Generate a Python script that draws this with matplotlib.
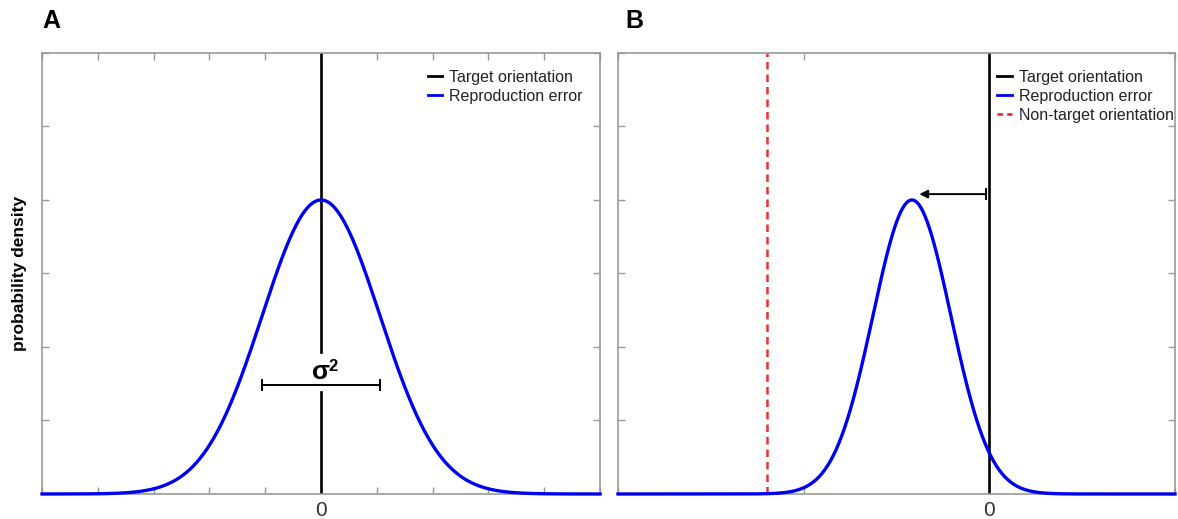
import matplotlib
matplotlib.use('Agg')
import matplotlib.pyplot as plt
import numpy as np

plt.rcParams['font.family'] = ['Liberation Sans', 'DejaVu Sans']

# Parámetros de las curvas (grados)
panel_labels = ['A', 'B']
legend_labels = ['Target orientation', 'Reproduction error', 'Non-target orientation']
target_pos = 0
mu_a, sigma_a = 0, 19
mu_b, sigma_b = -25, 12.6
nontarget_b = -72
xlim_a = (-90, 90)
xlim_b = (-120, 60)
xticks_a = np.arange(-90, 91, 18)
xticks_b = [-120, -60, 0, 60]
yticks = [0, 0.25, 0.5, 0.75, 1.0, 1.25, 1.5]
ylim = (0, 1.5)
sigma_bar = (-19, 19, 0.371)
arrow_b = (-1, -22.6, 1.02)

blue = '#0000f0'
gris = '#999999'


def curva(mu, sigma, xlim):
    x = np.linspace(xlim[0], xlim[1], 800)
    return x, np.exp(-0.5 * ((x - mu) / sigma) ** 2)


def estilo_ejes(ax, xlim, xticks):
    ax.set_xlim(*xlim)
    ax.set_ylim(*ylim)
    ax.set_xticks(xticks)
    ax.set_xticklabels(['0' if t == 0 else '' for t in xticks])
    ax.set_yticks(yticks)
    ax.set_yticklabels([])
    ax.tick_params(direction='in', length=5, width=1, color=gris,
                   top=True, right=True, labelsize=15, labelcolor='#333333', pad=5)
    for s in ax.spines.values():
        s.set_color(gris)
        s.set_linewidth(1.2)


fig = plt.figure(figsize=(11.78, 5.19), dpi=100)
ax_a = fig.add_axes([0.0357, 0.0482, 0.4737, 0.8497])
ax_b = fig.add_axes([0.5246, 0.0482, 0.4728, 0.8497])

# Panel A
x, y = curva(mu_a, sigma_a, xlim_a)
ax_a.plot(x, y, color=blue, lw=2.4, zorder=3, clip_on=False)
ax_a.plot([target_pos, target_pos], [0.483, ylim[1]], color='black', lw=1.9, zorder=2)
ax_a.plot([target_pos, target_pos], [0, 0.347], color='black', lw=1.9, zorder=2)
ax_a.plot([sigma_bar[0], sigma_bar[1]], [sigma_bar[2]] * 2, color='black', lw=1.4)
ax_a.plot([sigma_bar[0]] * 2, [sigma_bar[2] - 0.017, sigma_bar[2] + 0.017], color='black', lw=1.4)
ax_a.plot([sigma_bar[1]] * 2, [sigma_bar[2] - 0.017, sigma_bar[2] + 0.017], color='black', lw=1.4)
# sigma con superíndice grande
ax_a.annotate('σ', xy=(target_pos, sigma_bar[2]), xytext=(0, 1), textcoords='offset points',
              ha='center', va='bottom', fontsize=19, fontweight='bold')
ax_a.annotate('2', xy=(target_pos, sigma_bar[2]), xytext=(5, 8), textcoords='offset points',
              ha='left', va='bottom', fontsize=12, fontweight='bold')
estilo_ejes(ax_a, xlim_a, xticks_a)
h1, = ax_a.plot([], [], color='black', lw=2)
h2, = ax_a.plot([], [], color=blue, lw=2)
ax_a.legend([h1, h2], legend_labels[:2], loc='upper left', bbox_to_anchor=(0.665, 0.995),
            frameon=False, fontsize=11.5, handlelength=0.9, handletextpad=0.45,
            labelspacing=0.25, labelcolor='#222222')
ax_a.set_ylabel('probability density', fontsize=12.5, fontweight='bold', labelpad=6)

# Panel B
x, y = curva(mu_b, sigma_b, xlim_b)
ax_b.plot(x, y, color=blue, lw=2.4, zorder=3, clip_on=False)
ax_b.axvline(target_pos, color='black', lw=1.9, zorder=2)
ax_b.axvline(nontarget_b, color='#ee3030', lw=1.8, ls=(0, (3, 2)), zorder=2)
ax_b.annotate('', xy=(arrow_b[1], arrow_b[2]), xytext=(arrow_b[0], arrow_b[2]),
              arrowprops=dict(arrowstyle='-|>', color='black', lw=1.4,
                              mutation_scale=12, shrinkA=0, shrinkB=0))
ax_b.plot([arrow_b[0]] * 2, [arrow_b[2] - 0.017, arrow_b[2] + 0.017], color='black', lw=1.4)
estilo_ejes(ax_b, xlim_b, xticks_b)
h3, = ax_b.plot([], [], color='#ee3030', lw=2, ls=(0, (2, 1.5)))
ax_b.legend([h1, h2, h3], legend_labels, loc='upper left', bbox_to_anchor=(0.655, 0.995),
            frameon=False, fontsize=11.5, handlelength=0.9, handletextpad=0.45,
            labelspacing=0.25, labelcolor='#222222')

for ax, lab in zip([ax_a, ax_b], panel_labels):
    bb = ax.get_position()
    fig.text(bb.x0 + (0 if lab == 'A' else 0.006), 0.983, lab, fontsize=18,
             fontweight='bold', va='top', ha='left')

fig.savefig('out.png', dpi=100)
